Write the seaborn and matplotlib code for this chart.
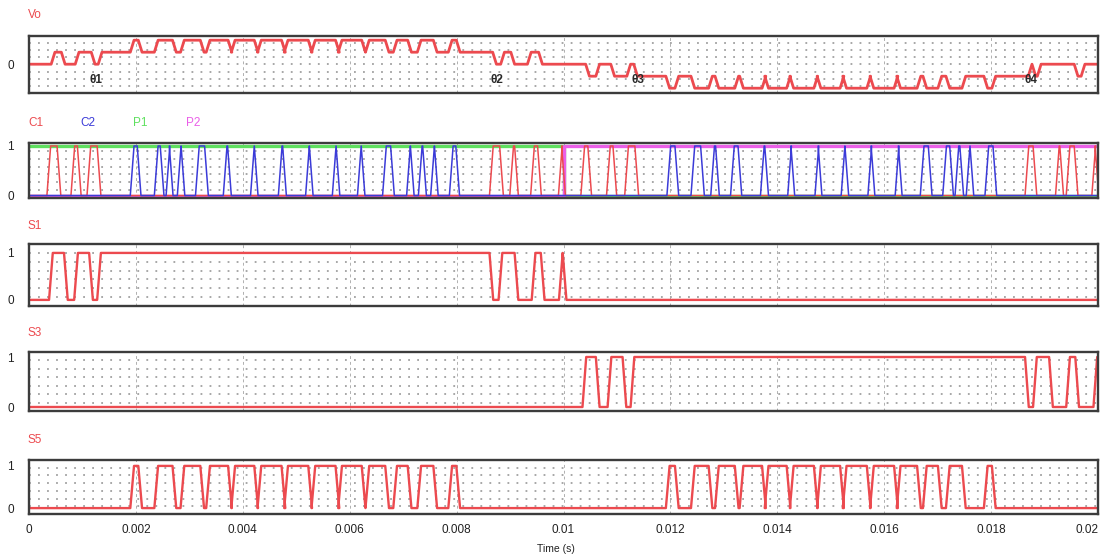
import numpy as np
import pandas as pd
import matplotlib
matplotlib.use("Agg")
import matplotlib.pyplot as plt
import seaborn as sns

# ---------------- data ----------------
t_end = 0.02
tick_values = [0, 0.002, 0.004, 0.006, 0.008, 0.01, 0.012, 0.014, 0.016, 0.018, 0.02]
tick_labels = ["0", "0.002", "0.004", "0.006", "0.008", "0.01", "0.012", "0.014",
               "0.016", "0.018", "0.02"]

# Vo: switching instants (s) and the level reached after each one
vo_times = [0.00045, 0.00064, 0.00090, 0.00120, 0.00133,
            0.00193, 0.00208, 0.00238, 0.00272, 0.00287, 0.00324, 0.00335, 0.00376,
            0.00382, 0.00425, 0.00431, 0.00476, 0.00481, 0.00526, 0.00532, 0.00577,
            0.00582, 0.00626, 0.00633, 0.00670, 0.00685, 0.00712, 0.00730, 0.00760,
            0.00788, 0.00803,
            0.00871, 0.00886, 0.00905, 0.00936, 0.00957,
            0.01045, 0.01064, 0.01092, 0.01122, 0.01135,
            0.01195, 0.01212, 0.01242, 0.01275, 0.01287, 0.01324, 0.01333, 0.01375,
            0.01380, 0.01421, 0.01427, 0.01472, 0.01478, 0.01521, 0.01526, 0.01571,
            0.01577, 0.01622, 0.01627, 0.01665, 0.01676, 0.01704, 0.01719, 0.01749,
            0.01790, 0.01805,
            0.01873, 0.01880, 0.01890, 0.01959, 0.01972]
vo_levels = [1, 0, 1, 0, 1,
             2, 1, 2, 1, 2, 1, 2, 1,
             2, 1, 2, 1, 2, 1, 2, 1,
             2, 1, 2, 1, 2, 1, 2, 1,
             2, 1,
             0, 1, 0, 1, 0,
             -1, 0, -1, 0, -1,
             -2, -1, -2, -1, -2, -1, -2, -1,
             -2, -1, -2, -1, -2, -1, -2, -1,
             -2, -1, -2, -1, -2, -1, -2, -1,
             -2, -1,
             0, -1, 0, -1, 0]

# Carrier/gate pulses (rise, fall pairs, s)
c1_edges = [0.00037, 0.00056, 0.00082, 0.00094, 0.00112, 0.00131,
            0.00865, 0.00884, 0.00903, 0.00912, 0.00942, 0.00955,
            0.00994, 0.01000, 0.01036, 0.01049, 0.01084, 0.01096, 0.01118, 0.01137,
            0.01867, 0.01882, 0.01924, 0.01932, 0.01944, 0.01959, 0.01992, 0.01998]
c2_edges = [0.00193, 0.00206, 0.00238, 0.00249, 0.00260, 0.00266, 0.00281, 0.00288,
            0.00315, 0.00332, 0.00367, 0.00375, 0.00418, 0.00425, 0.00470, 0.00478,
            0.00521, 0.00528, 0.00571, 0.00578, 0.00618, 0.00625, 0.00665, 0.00680,
            0.00710, 0.00717, 0.00732, 0.00740, 0.00755, 0.00762, 0.00790, 0.00802,
            0.01197, 0.01212, 0.01242, 0.01260, 0.01279, 0.01288, 0.01316, 0.01330,
            0.01372, 0.01380, 0.01423, 0.01429, 0.01474, 0.01480, 0.01523, 0.01530,
            0.01573, 0.01579, 0.01624, 0.01630, 0.01671, 0.01686, 0.01713, 0.01726,
            0.01736, 0.01745, 0.01757, 0.01764, 0.01792, 0.01807]
p1_edges = [0.01]
p2_edges = [0.01]

s1_edges = [0.00041, 0.00069, 0.00088, 0.00116, 0.00131,
            0.00865, 0.00882, 0.00912, 0.00944, 0.00961, 0.00995, 0.01002]
s3_edges = [0.01039, 0.01064, 0.01086, 0.01114, 0.01129,
            0.01867, 0.01882, 0.01912, 0.01944, 0.01961, 0.01995]
s5_edges = [0.00193, 0.00208, 0.00238, 0.00272, 0.00287, 0.00324, 0.00335, 0.00376,
            0.00382, 0.00425, 0.00431, 0.00476, 0.00481, 0.00526, 0.00532, 0.00577,
            0.00582, 0.00626, 0.00633, 0.00670, 0.00685, 0.00712, 0.00730, 0.00760,
            0.00788, 0.00803,
            0.01195, 0.01212, 0.01242, 0.01275, 0.01287, 0.01324, 0.01333, 0.01375,
            0.01380, 0.01421, 0.01427, 0.01472, 0.01478, 0.01521, 0.01526, 0.01571,
            0.01577, 0.01622, 0.01627, 0.01665, 0.01676, 0.01704, 0.01719, 0.01749,
            0.01790, 0.01805]

# ---------------- helpers ----------------
RAMP = 0.00007


def wave(edges, levels, start, ramp=RAMP):
    t, y, cur = [0.0], [start], start
    for e, lv in zip(edges, levels):
        t += [e - ramp / 2, e + ramp / 2]
        y += [cur, lv]
        cur = lv
    t.append(t_end)
    y.append(cur)
    return pd.DataFrame({"t": t, "v": y})


def toggles(edges, start, ramp=RAMP):
    levels = [(1 - start) if i % 2 == 0 else start for i in range(len(edges))]
    return wave(edges, levels, start, ramp)


RED = "#ec4a4f"
BLUE = "#3b3bd8"
GREEN = "#5fe05f"
MAGENTA = "#ea5fe8"
GRID = "#a0a0a0"

sns.set_theme(style="white")
plt.rcParams["font.family"] = ["Liberation Sans", "DejaVu Sans"]

fig = plt.figure(figsize=(11, 5.56), dpi=100)
W, H = 1100, 556


def make_ax(top, bottom, ylim, ndiv):
    ax = fig.add_axes([29 / W, 1 - bottom / H, (1098 - 29) / W, (bottom - top) / H])
    ax.set_xlim(0, t_end)
    ax.set_ylim(*ylim)
    y0, y1 = ylim
    for k in range(1, ndiv):
        ax.axhline(y0 + k * (y1 - y0) / ndiv, color=GRID, lw=1.3,
                   linestyle=(0, (1, 4)), zorder=0)
    for xv in tick_values[1:-1]:
        ax.axvline(xv, color="#b0b0b0", lw=0.7, linestyle=(0, (3, 3)), zorder=0)
    for s in ax.spines.values():
        s.set_color("#3c3c3c")
        s.set_linewidth(1.7)
        s.set_visible(True)
    ax.set_xticks(tick_values)
    ax.set_xticklabels([])
    ax.tick_params(axis="both", length=0, pad=11, labelsize=8.5, colors="#222222")
    ax.set_xlabel("")
    ax.set_ylabel("")
    return ax


def draw(ax, df, color, lw):
    sns.lineplot(data=df, x="t", y="v", ax=ax, color=color, linewidth=lw,
                 estimator=None, sort=False, legend=False)
    ax.set_xlabel("")
    ax.set_ylabel("")


# --- Vo ---
ax_vo = make_ax(36, 93, (-2.4, 2.35), 8)
draw(ax_vo, wave(vo_times, vo_levels, 0), RED, 2.0)
ax_vo.set_yticks([0])
ax_vo.set_yticklabels(["0"])
for lbl, xv in zip(["θ1", "θ2", "θ3", "θ4"], [0.00125, 0.00875, 0.01139, 0.01875]):
    ax_vo.text(xv, -1.35, lbl, color="#2a2a2a", fontsize=8.5, ha="center", va="center",
               fontweight="bold")
fig.text(28 / W, 1 - 15 / H, "Vo", color=RED, fontsize=8.5, va="center", ha="left")

# --- C1, C2, P1, P2 ---
ax_c = make_ax(143, 198, (-0.05, 1.06), 7)
draw(ax_c, toggles(p1_edges, 1, ramp=0.0), GREEN, 2.4)
draw(ax_c, toggles(p2_edges, 0, ramp=0.0), MAGENTA, 2.4)
draw(ax_c, toggles(c1_edges, 0), RED, 1.1)
draw(ax_c, toggles(c2_edges, 0), BLUE, 1.1)
ax_c.set_yticks([0, 1])
ax_c.set_yticklabels(["0", "1"])
for lbl, xp, col in zip(["C1", "C2", "P1", "P2"], [28, 80, 133, 186],
                        [RED, BLUE, GREEN, MAGENTA]):
    fig.text(xp / W, 1 - 123 / H, lbl, color=col, fontsize=8.5, va="center", ha="left")

# --- S1 ---
ax_s1 = make_ax(244, 306, (-0.13, 1.19), 7)
draw(ax_s1, toggles(s1_edges, 0), RED, 1.7)
ax_s1.set_yticks([0, 1])
ax_s1.set_yticklabels(["0", "1"])
fig.text(28 / W, 1 - 226 / H, "S1", color=RED, fontsize=8.5, va="center", ha="left")

# --- S3 ---
ax_s3 = make_ax(352, 411, (-0.08, 1.1), 7)
draw(ax_s3, toggles(s3_edges, 0), RED, 1.7)
ax_s3.set_yticks([0, 1])
ax_s3.set_yticklabels(["0", "1"])
fig.text(28 / W, 1 - 333 / H, "S3", color=RED, fontsize=8.5, va="center", ha="left")

# --- S5 ---
ax_s5 = make_ax(460, 514, (-0.14, 1.14), 7)
draw(ax_s5, toggles(s5_edges, 0), RED, 1.7)
ax_s5.set_yticks([0, 1])
ax_s5.set_yticklabels(["0", "1"])
ax_s5.set_xticklabels(tick_labels)
ax_s5.tick_params(axis="x", pad=7)
ax_s5.get_xticklabels()[-1].set_horizontalalignment("right")
fig.text(28 / W, 1 - 440 / H, "S5", color=RED, fontsize=8.5, va="center", ha="left")
fig.text(556 / W, 1 - 549 / H, "Time (s)", color="#222222", fontsize=7.5,
         va="center", ha="center")

fig.savefig("out.png", dpi=100)
